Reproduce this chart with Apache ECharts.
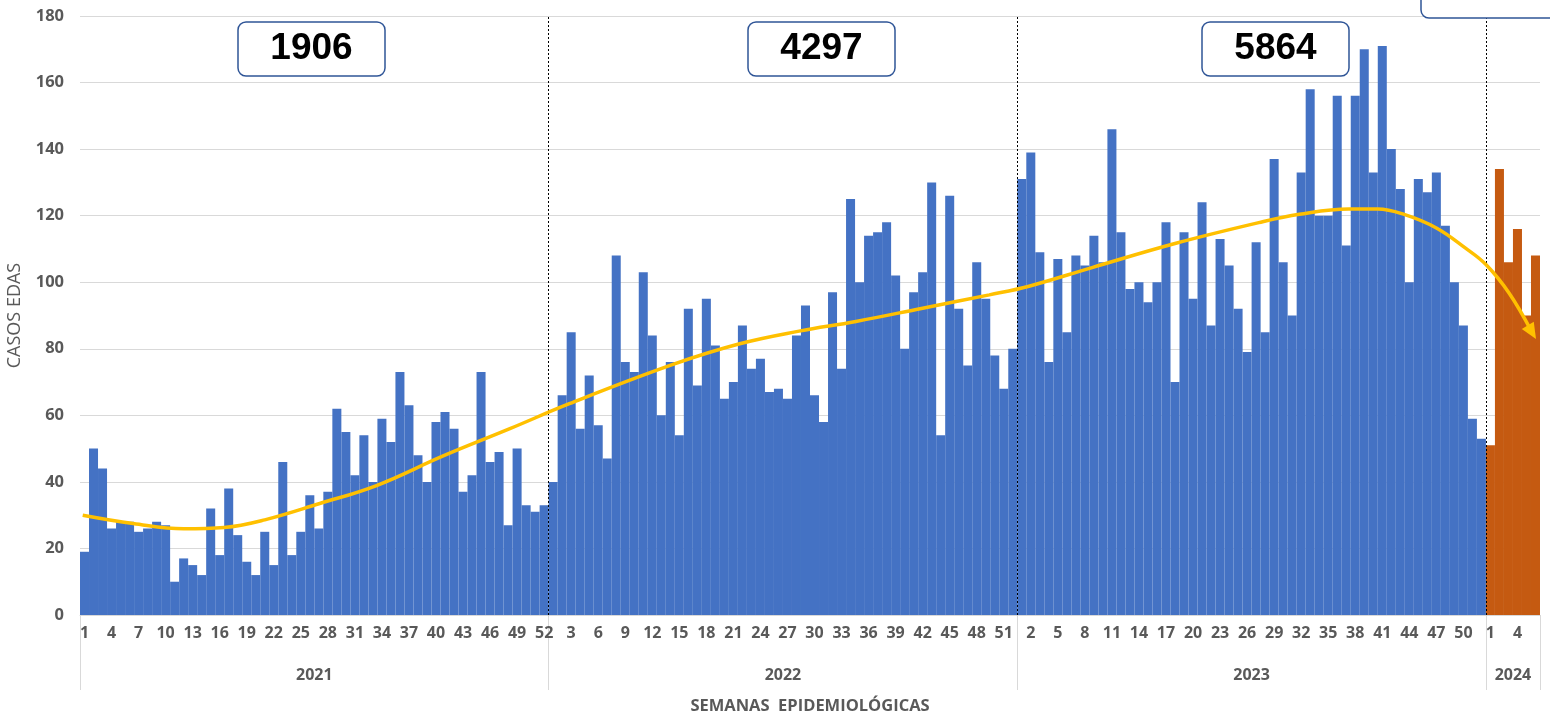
<!DOCTYPE html>
<html>
<head>
<meta charset="utf-8">
<script src="https://cdn.jsdelivr.net/npm/echarts@6/dist/echarts.min.js"></script>
<style>
  html, body { margin: 0; padding: 0; background: #fff; }
  #chart { width: 1550px; height: 718px; }
</style>
</head>
<body>
<div id="chart"></div>
<script>
// casos EDAS por semana epidemiológica
const anios = ['2021', '2022', '2023', '2024']
const casos2021 = [19, 50, 44, 26, 28, 28, 25, 26, 28, 27, 10, 17, 15, 12, 32, 18, 38, 24, 16, 12,
  25, 15, 46, 18, 25, 36, 26, 37, 62, 55, 42, 54, 40, 59, 52, 73, 63, 48, 40, 58,
  61, 56, 37, 42, 73, 46, 49, 27, 50, 33, 31, 33]
const casos2022 = [40, 66, 85, 56, 72, 57, 47, 108, 76, 73, 103, 84, 60, 76, 54, 92, 69, 95, 81, 65,
  70, 87, 74, 77, 67, 68, 65, 84, 93, 66, 58, 97, 74, 125, 100, 114, 115, 118, 102, 80,
  97, 103, 130, 54, 126, 92, 75, 106, 95, 78, 68, 80]
const casos2023 = [131, 139, 109, 76, 107, 85, 108, 105, 114, 106, 146, 115, 98, 100, 94, 100, 118, 70, 115, 95,
  124, 87, 113, 105, 92, 79, 112, 85, 137, 106, 90, 133, 158, 120, 120, 156, 111, 156, 170, 133,
  171, 140, 128, 100, 131, 127, 133, 117, 100, 87, 59, 53]
const casos2024 = [51, 134, 106, 116, 90, 108]
// totales anuales de los recuadros
const totales = ['1906', '4297', '5864']
// línea de tendencia (posición en semanas desde el inicio, casos)
const tendencia = [[0.3, 30], [5.9, 27.5], [11.5, 25.9], [16, 26.3], [20.5, 28.6], [26.6, 33.5],
  [32.9, 38.9], [40.3, 47.8], [47.7, 56], [54.3, 63.5], [65.8, 75.3], [73.2, 81.5], [79.8, 85.3],
  [86.1, 88.2], [93.5, 92.2], [100.9, 96.2], [105.3, 98.8], [112.3, 104.4], [121.6, 111.7],
  [130.8, 117.9], [135.3, 120.4], [140.8, 122], [144, 122], [147, 120.3], [150.5, 116.3],
  [153.7, 110.3], [156, 105.3], [158.6, 96.6], [161.1, 85]]

const porAnio = [casos2021, casos2022, casos2023, casos2024]
const semanas = []
const barras = []
porAnio.forEach((arr, k) => {
  arr.forEach((v, i) => {
    semanas.push(String(i + 1))
    barras.push({ value: v, itemStyle: { color: k === 3 ? '#C55A11' : '#4472C4' } })
  })
})
const limites = [0]
porAnio.forEach(a => limites.push(limites[limites.length - 1] + a.length))
const centros = porAnio.map((a, k) => (limites[k] + limites[k + 1]) / 2)

const gris = '#595959'
const fuente = 'Open Sans'

const chart = echarts.init(document.getElementById('chart'))
chart.setOption({
  animation: false,
  backgroundColor: '#fff',
  grid: { left: 80, right: 10, top: 16, bottom: 103, containLabel: false, outerBoundsMode: 'none' },
  xAxis: [
    {
      type: 'category',
      data: semanas,
      boundaryGap: true,
      axisLine: { lineStyle: { color: '#d9d9d9' } },
      axisTick: { show: false },
      axisLabel: {
        interval: 2, color: gris, fontFamily: fuente, fontWeight: 'bold', fontSize: 16, margin: 10
      },
      name: 'SEMANAS  EPIDEMIOLÓGICAS',
      nameLocation: 'middle',
      nameGap: 83,
      nameTextStyle: { color: gris, fontFamily: fuente, fontWeight: 'bold', fontSize: 16.5 }
    },
    {
      type: 'value',
      position: 'bottom',
      min: 0,
      max: limites[limites.length - 1],
      axisLine: { show: false },
      splitLine: { show: false },
      axisTick: {
        show: true, length: 75, customValues: limites,
        lineStyle: { color: '#d9d9d9', width: 1 }
      },
      axisLabel: {
        customValues: centros,
        formatter: v => anios[centros.indexOf(v)] || '',
        color: gris, fontFamily: fuente, fontWeight: 'bold', fontSize: 16, margin: 52
      }
    }
  ],
  yAxis: {
    type: 'value',
    min: 0,
    max: 180,
    interval: 20,
    axisLine: { show: false },
    axisTick: { show: false },
    splitLine: { lineStyle: { color: '#d9d9d9', width: 1 } },
    axisLabel: { color: gris, fontFamily: fuente, fontWeight: 'bold', fontSize: 16.5, margin: 16 },
    name: 'CASOS EDAS',
    nameLocation: 'middle',
    nameGap: 56,
    nameTextStyle: { color: gris, fontFamily: fuente, fontSize: 18 }
  },
  series: [
    {
      type: 'bar',
      data: barras,
      barCategoryGap: '0%',
      xAxisIndex: 0
    },
    {
      type: 'line',
      xAxisIndex: 1,
      smooth: 0.4,
      symbol: 'none',
      z: 5,
      lineStyle: { color: '#FFC000', width: 3.5 },
      itemStyle: { color: '#FFC000' },
      data: tendencia.map((p, i) => i === tendencia.length - 1
        ? { value: p, symbol: 'triangle', symbolSize: [14, 16], symbolRotate: 211 }
        : p),
      markLine: {
        silent: true,
        symbol: ['none', 'none'],
        label: { show: false },
        lineStyle: { color: '#000', type: [2, 2], width: 1 },
        data: limites.slice(1, -1).map(x => ({ xAxis: x }))
      }
    }
  ],
  graphic: [
    ...totales.map((t, i) => ({
      type: 'rect',
      shape: { x: [238, 748, 1202][i], y: 22, width: 147, height: 54, r: 8 },
      style: { fill: '#fff', stroke: '#2F5597', lineWidth: 1.5 },
      z: 10
    })),
    ...totales.map((t, i) => ({
      type: 'text',
      x: [238, 748, 1202][i] + 73.5,
      y: 49,
      style: {
        text: t, fill: '#000', font: 'bold 37px "Liberation Sans"',
        align: 'center', verticalAlign: 'middle'
      },
      z: 11
    })),
    {
      type: 'rect',
      shape: { x: 1421, y: -40, width: 200, height: 58, r: 8 },
      style: { fill: '#fff', stroke: '#2F5597', lineWidth: 1.5 },
      z: 10
    }
  ]
})
</script>
</body>
</html>
